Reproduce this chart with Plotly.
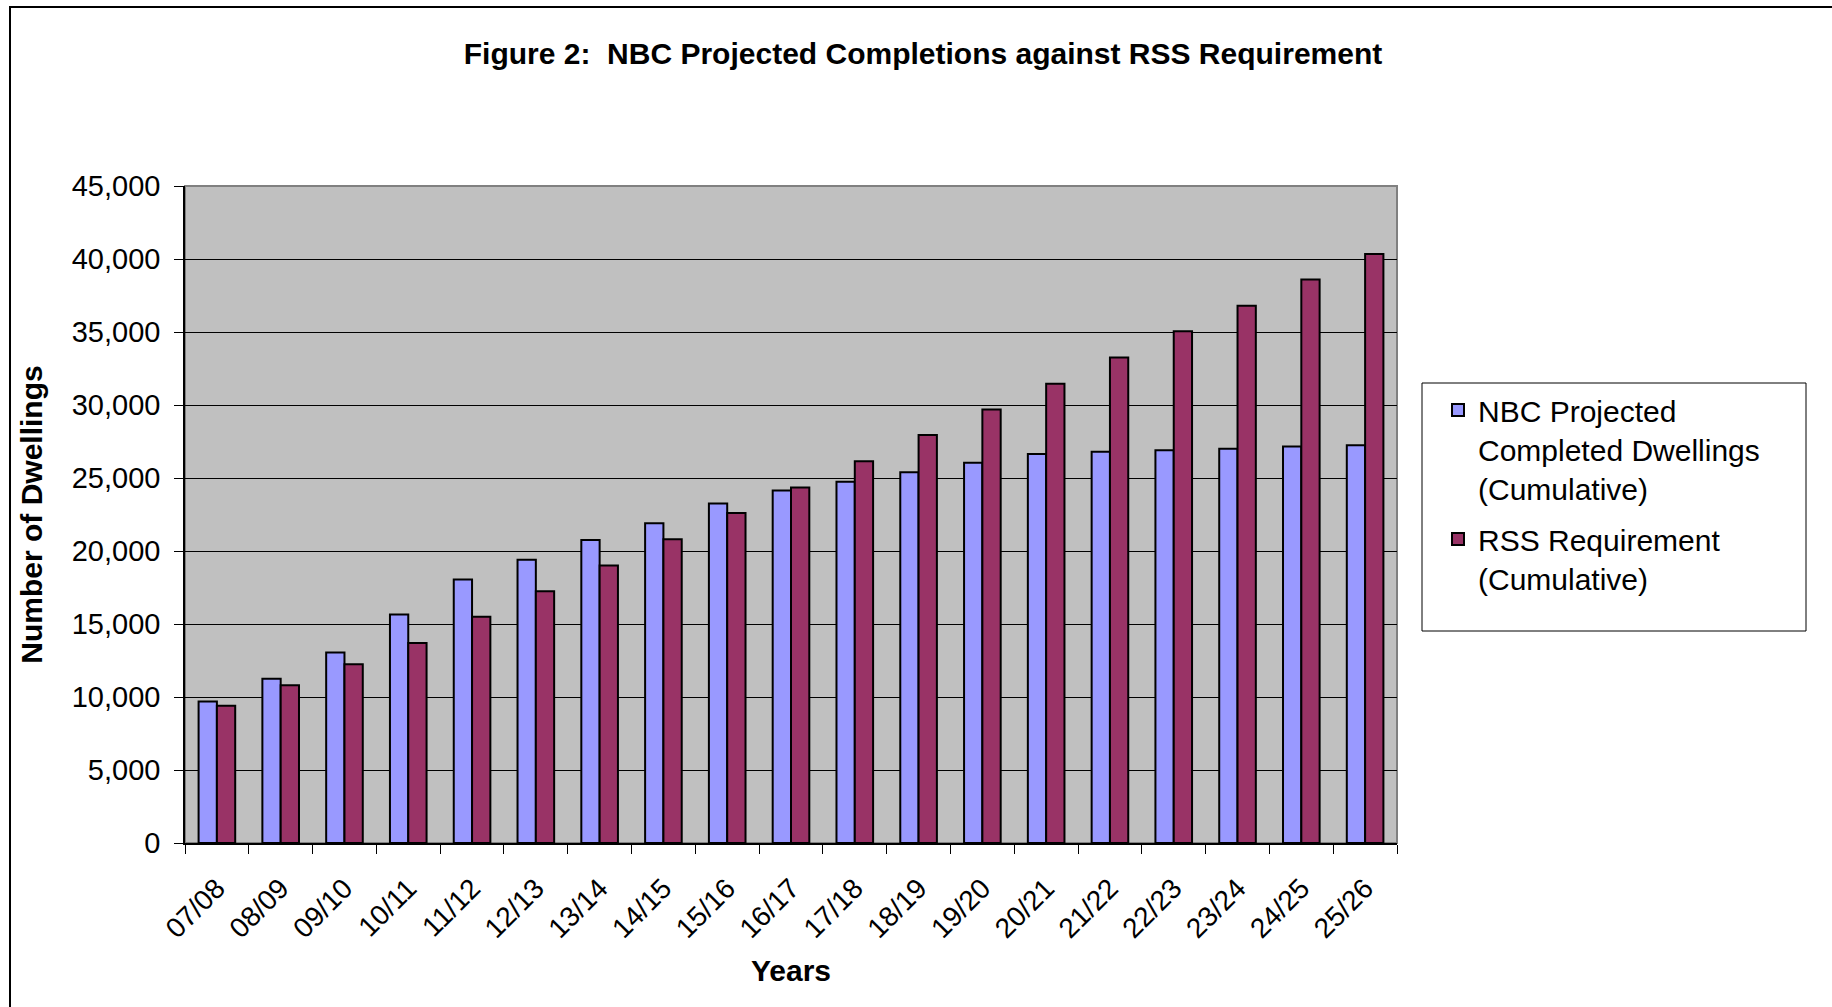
import plotly.graph_objects as go

# ---- data ----
years = ["07/08", "08/09", "09/10", "10/11", "11/12", "12/13", "13/14", "14/15", "15/16",
         "16/17", "17/18", "18/19", "19/20", "20/21", "21/22", "22/23", "23/24", "24/25", "25/26"]
nbc_completed = [9700, 11250, 13050, 15650, 18050, 19400, 20750, 21900, 23250,
                 24150, 24750, 25400, 26050, 26650, 26800, 26900, 27000, 27150, 27250]
rss_requirement = [9400, 10800, 12250, 13700, 15500, 17250, 19000, 20800, 22600,
                   24350, 26150, 27950, 29700, 31450, 33250, 35050, 36800, 38600, 40350]
series_names = ["NBC Projected<br>Completed Dwellings<br>(Cumulative)",
                "RSS Requirement<br>(Cumulative)"]
y_ticks = [0, 5000, 10000, 15000, 20000, 25000, 30000, 35000, 40000, 45000]

# ---- layout geometry (pixels) ----
W, H = 1832, 1007
L, R, T, B = 185, 1397, 186, 843
FONT = "Liberation Sans, Arial, sans-serif"


def px_x(p):
    return (p - L) / (R - L)


def px_y(p):
    return (B - p) / (B - T)


fig = go.Figure()
fig.add_trace(go.Bar(x=years, y=nbc_completed, name=series_names[0], legendgroup="a",
                     marker=dict(color="#9999FF", line=dict(color="black", width=2))))
fig.add_trace(go.Bar(x=years, y=rss_requirement, name=series_names[1], legendgroup="b",
                     marker=dict(color="#993366", line=dict(color="black", width=2))))

fig.update_layout(
    width=W, height=H,
    margin=dict(l=L, r=W - R, t=T, b=H - B, autoexpand=False),
    paper_bgcolor="white", plot_bgcolor="#C0C0C0",
    barmode="group", bargap=0.426, bargroupgap=0,
    font=dict(family=FONT, color="black"),
    title=dict(text="Figure 2:\u00a0 NBC Projected Completions against RSS Requirement",
               font=dict(family=FONT, size=30, color="black", weight="bold"),
               x=923 / W, xref="container", xanchor="center",
               y=1 - 53 / H, yref="container", yanchor="middle"),
    legend=dict(x=px_x(1438), y=px_y(384), xanchor="left", yanchor="top",
                bgcolor="rgba(0,0,0,0)", borderwidth=0, valign="top",
                font=dict(family=FONT, size=30, color="black"),
                traceorder="grouped", tracegroupgap=9),
    showlegend=True,
)

fig.update_xaxes(
    type="category", tickangle=-45, tickson="boundaries",
    ticks="outside", ticklen=9, tickcolor="black", tickwidth=1,
    tickfont=dict(family=FONT, size=28, color="black"),
    ticklabelstandoff=16,
    showline=True, linecolor="black", linewidth=1.5, showgrid=False,
    title=dict(text="Years", font=dict(family=FONT, size=30, color="black", weight="bold"),
               standoff=17),
)
fig.update_yaxes(
    range=[0, 45000], tickvals=y_ticks, tickformat=",",
    ticks="outside", ticklen=9, tickcolor="black", tickwidth=1,
    tickfont=dict(family=FONT, size=29, color="black"),
    ticklabelstandoff=8,
    showline=True, linecolor="black", linewidth=1.5,
    showgrid=True, gridcolor="black", gridwidth=1, zeroline=False,
    title=dict(text="Number of Dwellings",
               font=dict(family=FONT, size=30, color="black", weight="bold"),
               standoff=20),
)

# plot-area border (gray), legend box, outer frame
fig.add_shape(type="rect", xref="paper", yref="paper", x0=0, x1=1, y0=0, y1=1,
              line=dict(color="#808080", width=2), layer="below")
fig.add_shape(type="rect", xref="paper", yref="paper",
              x0=px_x(1422), x1=px_x(1806), y0=px_y(631), y1=px_y(383),
              line=dict(color="black", width=1), fillcolor="rgba(0,0,0,0)")
fig.add_shape(type="rect", xref="paper", yref="paper",
              x0=px_x(10), x1=px_x(1850), y0=px_y(1020), y1=px_y(7),
              line=dict(color="black", width=2), fillcolor="rgba(0,0,0,0)")

fig.write_html("out.html")
